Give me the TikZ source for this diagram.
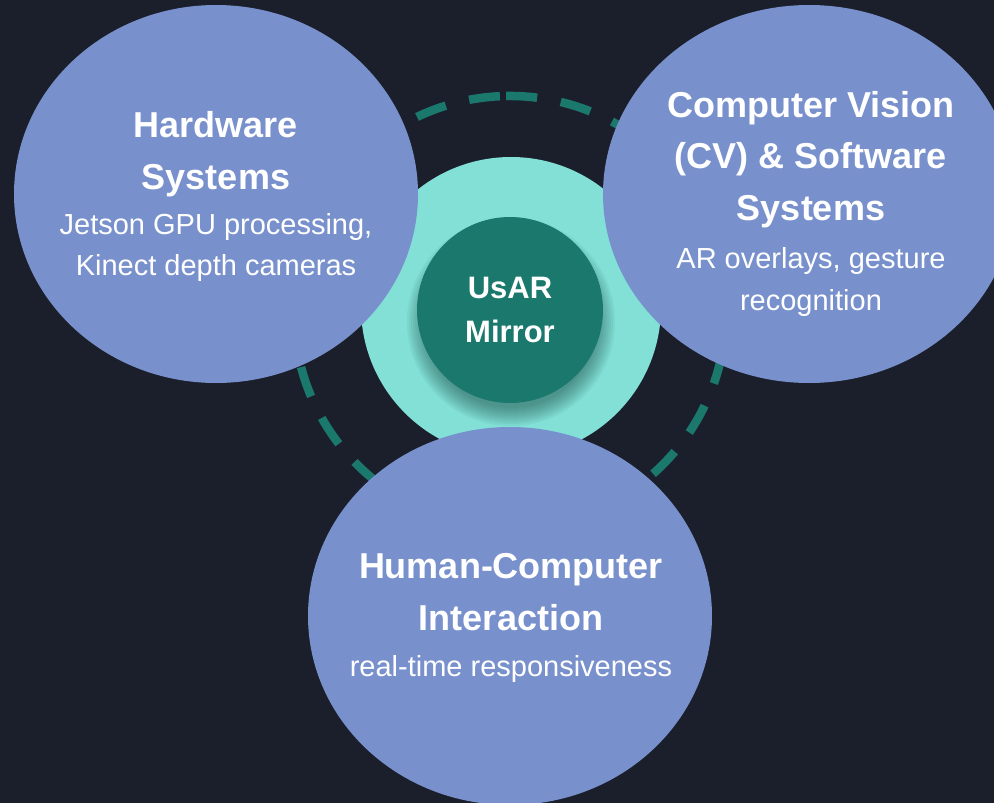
\documentclass[tikz,border=0pt]{standalone}
\usepackage{fontspec}
\setmainfont{Liberation Sans}
\usetikzlibrary{shapes.geometric}
\definecolor{bg}{RGB}{27,31,43}
\definecolor{blob}{RGB}{120,144,204}
\definecolor{lteal}{RGB}{130,224,214}
\definecolor{dteal}{RGB}{27,120,108}
\begin{document}
\begin{tikzpicture}[x=1pt,y=-1pt,
  bigc/.style={ellipse, fill=blob, minimum width=404pt, minimum height=378pt, inner sep=0pt},
  ttl/.style={text=white, font=\fontsize{36}{40}\selectfont\bfseries, anchor=base, inner sep=0pt},
  subt/.style={text=white, font=\fontsize{29}{34}\selectfont, anchor=base, inner sep=0pt},
  ctr/.style={text=white, font=\fontsize{31}{36}\selectfont\bfseries, anchor=base, inner sep=0pt},
  ringline/.style={draw=dteal, line width=8.5pt, dash pattern=on 31pt off 24pt}]
\fill[bg] (0,0) rectangle (994,803);
\useasboundingbox (0,0) rectangle (994,803);
% dashed ring
\coordinate (ringstart) at (506.2,96);
\draw[ringline] (ringstart) arc[start angle=91, end angle=-269, radius=216pt];
% light teal disc
\node[circle, fill=lteal, minimum size=300pt, inner sep=0pt] (halo) at (511,307) {};
% shadow of the centre disc
\foreach \k in {0,2,...,18}{
  \fill[black!60!dteal, opacity=0.05] (511,322) circle[radius={(86+\k)*1pt}];
}
\node[circle, fill=dteal, minimum size=186pt, inner sep=0pt] (usar) at (510,310) {};
% the three domains
\node[bigc] (hw) at (216,194) {};
\node[bigc, minimum width=412pt] (cv) at (809,194) {};
\node[bigc] (hci) at (510,616) {};
% texts
\node[ctr] (usar1) at (510,298) {UsAR};
\node[ctr] (usar2) at (510,342) {Mirror};
\node[ttl] (hw1) at (216,137) {Hardware};
\node[ttl] (hw2) at (216,189) {Systems};
\node[subt] (hw3) at (216,234) {Jetson GPU processing,};
\node[subt] (hw4) at (216,275) {Kinect depth cameras};
\node[ttl] (cv1) at (811,117) {Computer Vision};
\node[ttl] (cv2) at (811,168) {(CV) \& Software};
\node[ttl] (cv3) at (811,220) {Systems};
\node[subt] (cv4) at (811,268) {AR overlays, gesture};
\node[subt] (cv5) at (811,310) {recognition};
\node[ttl] (hci1) at (511,578) {Human-Computer};
\node[ttl] (hci2) at (511,630) {Interaction};
\node[subt] (hci3) at (511,676) {real-time responsiveness};
\end{tikzpicture}
\end{document}
